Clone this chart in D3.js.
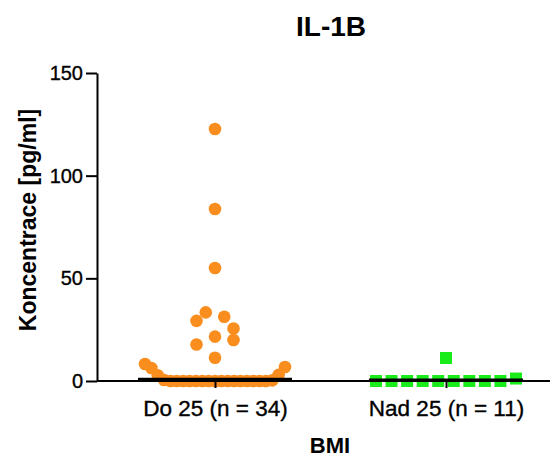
<!DOCTYPE html>
<html>
<head>
<meta charset="utf-8">
<script src="https://cdn.jsdelivr.net/npm/d3@7"></script>
<style>
  body { margin: 0; background: #fff; }
  svg { display: block; font-family: "Liberation Sans", Arial, sans-serif; }
</style>
</head>
<body>
<svg id="chart" width="556" height="459"></svg>
<script>
// groups on the x axis
const categories = ["Do 25 (n = 34)", "Nad 25 (n = 11)"];
// IL-1B values (pg/ml), in the order they sit in each row
const doValues = [122.7, 83.8, 55, 33.4, 31.3, 29.3, 21.6, 25.6, 17.8, 11.3, 20,
  8.3, 6.3, 2.8, 0.5, 0, 0, 0, 0, 0, 0, 0, 0, 0, 0, 0, 0, 0, 0, 0, 0, 0.3, 3.0, 6.8];
const nadValues = [0, 0, 0, 0, 11.2, 0, 0, 0, 0, 0, 1.2];
const yTicks = [0, 50, 100, 150];

const svg = d3.select("#chart");
const plotLeft = 97, plotRight = 550, plotTop = 73, plotBottom = 381;

const y = d3.scaleLinear().domain([0, 150]).range([plotBottom, plotTop]);
const x = d3.scalePoint().domain(categories).range([215, 446]);

/* GraphPad-like scatter: points close in height share a row and get spread sideways */
function swarm(values, cx) {
  const rowTol = 18.5, maxStep = 18.5, maxHalf = 70;
  const order = values.map((v, i) => i).sort((a, b) => values[a] - values[b] || a - b);
  let rows = [], cur = null;
  order.forEach(i => {
    const py = y(values[i]);
    if (!cur || cur.y0 - py > rowTol) { cur = {y0: py, items: []}; rows.push(cur); }
    cur.items.push(i);
  });
  const pos = [];
  rows.forEach(r => {
    r.items.sort((a, b) => a - b);
    const n = r.items.length;
    const step = n > 1 ? Math.min(maxStep, 2 * maxHalf / (n - 1)) : 0;
    r.items.forEach((i, k) => {
      pos[i] = {x: cx + (k - (n - 1) / 2) * step, y: y(values[i])};
    });
  });
  return pos;
}

// orange circles
svg.append("g").selectAll("circle")
  .data(swarm(doValues, x(categories[0])))
  .join("circle")
    .attr("cx", d => d.x)
    .attr("cy", d => d.y)
    .attr("r", 6.3)
    .attr("fill", "#f98d1e");

// green squares
const sq = 12;
svg.append("g").selectAll("rect")
  .data(swarm(nadValues, x(categories[1])))
  .join("rect")
    .attr("x", d => d.x - sq / 2)
    .attr("y", d => d.y - sq / 2)
    .attr("width", sq)
    .attr("height", sq)
    .attr("fill", "#1aeb1a");

// medians
const medians = [d3.median(doValues), d3.median(nadValues)];
svg.append("g").selectAll("line")
  .data(medians)
  .join("line")
    .attr("x1", (d, i) => x(categories[i]) - 77)
    .attr("x2", (d, i) => x(categories[i]) + 77)
    .attr("y1", d => y(d) - 1)
    .attr("y2", d => y(d) - 1)
    .attr("stroke", "#000")
    .attr("stroke-width", 3);

// y axis
const yAxis = svg.append("g")
  .attr("transform", `translate(${plotLeft},0)`)
  .call(d3.axisLeft(y).tickValues(yTicks).tickSize(11).tickSizeOuter(0).tickPadding(3));
yAxis.select(".domain").attr("stroke-width", 2);
yAxis.selectAll(".tick line").attr("stroke-width", 2);
yAxis.selectAll(".tick text")
  .attr("font-size", 20)
  .attr("font-family", "Liberation Sans, Arial, sans-serif")
  .attr("fill", "#000")
  .attr("stroke", "#000").attr("stroke-width", 0.35);

// x axis
const xAxis = svg.append("g")
  .attr("transform", `translate(0,${plotBottom})`)
  .call(d3.axisBottom(x).tickSize(7).tickSizeOuter(0).tickPadding(12));
xAxis.select(".domain").remove();
xAxis.append("line")
  .attr("x1", plotLeft).attr("x2", plotRight)
  .attr("stroke", "#000").attr("stroke-width", 2);
xAxis.selectAll(".tick line").attr("stroke-width", 2);
xAxis.selectAll(".tick text")
  .attr("font-size", 22.5)
  .attr("font-family", "Liberation Sans, Arial, sans-serif")
  .attr("fill", "#000")
  .attr("stroke", "#000").attr("stroke-width", 0.35);

// titles
svg.append("text")
  .attr("x", 331).attr("y", 36)
  .attr("text-anchor", "middle")
  .attr("font-size", 28).attr("font-weight", "bold")
  .text("IL-1B");

svg.append("text")
  .attr("x", 330).attr("y", 453)
  .attr("text-anchor", "middle")
  .attr("font-size", 22).attr("font-weight", "bold")
  .text("BMI");

svg.append("text")
  .attr("transform", "translate(36,220) rotate(-90)")
  .attr("text-anchor", "middle")
  .attr("font-size", 23).attr("font-weight", "bold")
  .text("Koncentrace [pg/ml]");
</script>
</body>
</html>
